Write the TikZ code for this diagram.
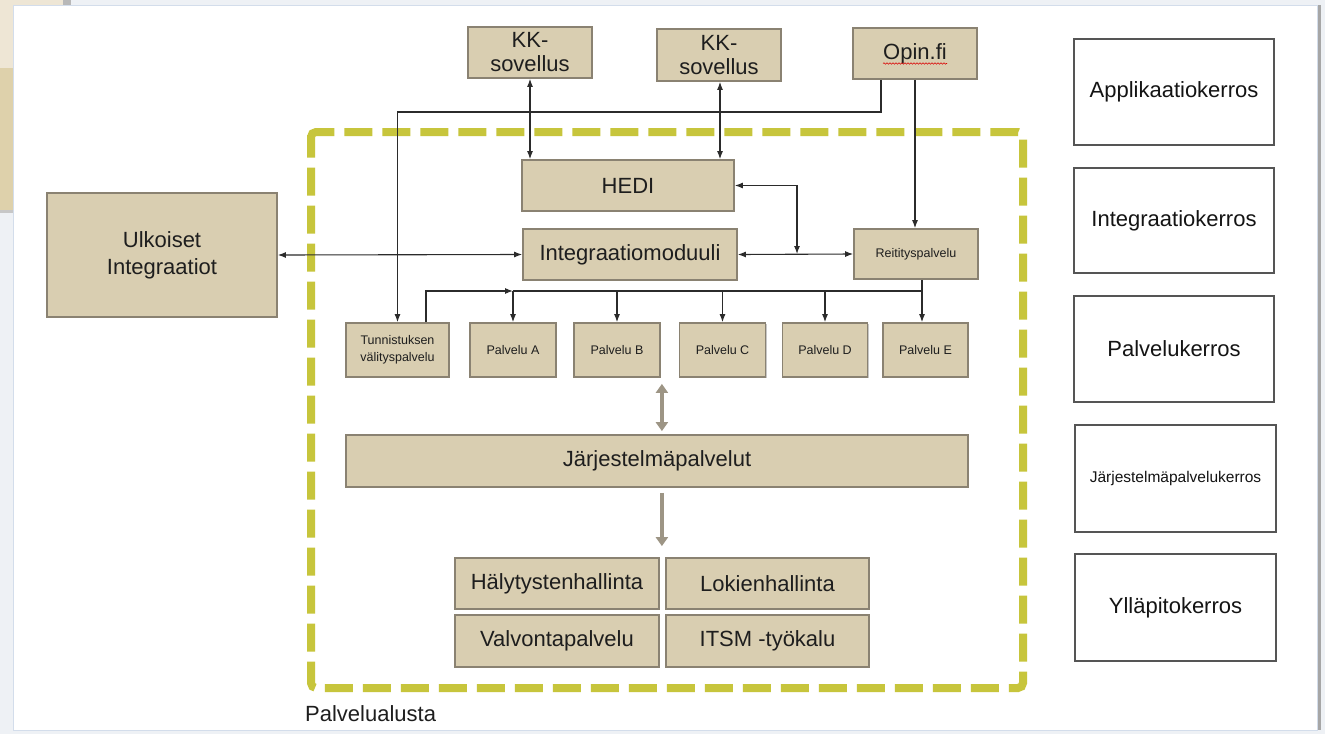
\documentclass[tikz,border=0pt]{standalone}
\usepackage{fontspec}
\setmainfont{Liberation Sans}
\usetikzlibrary{arrows.meta,calc,decorations.pathmorphing,shadows}
\definecolor{boxfill}{HTML}{D9CEB1}
\definecolor{boxline}{HTML}{8A8272}
\definecolor{txt}{HTML}{1E1E1E}
\definecolor{dashgreen}{HTML}{C7C53C}
\definecolor{bigarr}{HTML}{9D9585}
\definecolor{connc}{HTML}{2B2B2B}
\definecolor{layerline}{HTML}{555555}
\definecolor{outbg}{HTML}{EEF1F5}
\definecolor{beigeA}{HTML}{EEE6D5}
\definecolor{beigeB}{HTML}{DED1AB}
\definecolor{panelline}{HTML}{D3DDEB}
\begin{document}
\begin{tikzpicture}[x=1pt,y=-1pt,
  box/.style={draw=boxline, fill=boxfill, line width=1.8pt, inner sep=0pt, align=center, text=txt,
    font=\fontsize{22}{24}\selectfont,
    drop shadow={shadow xshift=1.2pt, shadow yshift=-1.2pt, opacity=0.22, fill=black}},
  smallbox/.style={box, font=\fontsize{12.5}{16.5}\selectfont},
  layer/.style={draw=layerline, fill=white, line width=1.4pt, inner sep=0pt, align=center, text=black!92, font=\fontsize{22}{25}\selectfont},
  conn/.style={draw=connc, line width=1.1pt, >={Latex[length=8pt,width=6pt]}},
  big/.style={draw=bigarr, line width=4pt, >={Triangle[length=9pt,width=12pt]}},
]
% frame / background
\fill[outbg] (0,0) rectangle (1325,734);
\useasboundingbox (0,0) rectangle (1325,734);
\fill[beigeA] (0,0) rectangle (65,68);
\fill[beigeB] (0,68) rectangle (13,210);
\fill[black!22] (0,210) rectangle (13,213);
\fill[black!28] (63,0) rectangle (71,5);
\fill[black!35] (1317,5) rectangle (1321,730);
\filldraw[fill=white, draw=panelline, line width=1pt] (13,5) rectangle (1317,730);

% dashed platform frame
\draw[dashgreen, line width=8pt, dash pattern=on 28pt off 10pt, rounded corners=5pt]
  (311,140) -- (311,132) -- (1023,132) -- (1023,688) -- (311,688) -- cycle;

% application layer
\node[box, minimum width=124pt, minimum height=51pt] (kk1) at (530,52.5) {KK-\\sovellus};
\node[box, minimum width=124pt, minimum height=52pt] (kk2) at (719,55) {KK-\\sovellus};
\node[box, minimum width=124pt, minimum height=51pt] (opin) at (915,53.5) {Opin.fi};

% integration layer
\node[box, minimum width=212pt, minimum height=51pt] (hedi) at (628,185.5) {HEDI};
\node[box, minimum width=214pt, minimum height=51pt] (integ) at (630,254.5) {Integraatiomoduuli};
\node[smallbox, minimum width=124pt, minimum height=50pt] (reit) at (916,254) {Reitityspalvelu};
\node[box, font=\fontsize{22}{27}\selectfont, minimum width=230pt, minimum height=124pt] (ulk) at (162,255) {Ulkoiset\\Integraatiot};

% service layer
\node[smallbox, minimum width=103pt, minimum height=54pt] (tunn) at (397.5,350) {Tunnistuksen\\välityspalvelu};
\node[smallbox, minimum width=86pt, minimum height=54pt] (pA) at (513,350) {Palvelu A};
\node[smallbox, minimum width=86pt, minimum height=54pt] (pB) at (617,350) {Palvelu B};
\node[smallbox, minimum width=86pt, minimum height=54pt] (pC) at (722.5,350) {Palvelu C};
\node[smallbox, minimum width=85pt, minimum height=54pt] (pD) at (825,350) {Palvelu D};
\node[smallbox, minimum width=85pt, minimum height=54pt] (pE) at (925.5,350) {Palvelu E};

% system services
\node[box, minimum width=622pt, minimum height=52pt] (jarj) at (657,461) {Järjestelmäpalvelut};

% maintenance
\node[box, minimum width=204pt, minimum height=51pt] (haly) at (557,583.5) {Hälytystenhallinta};
\node[box, minimum width=203pt, minimum height=51pt] (loki) at (767.5,583.5) {Lokienhallinta};
\node[box, minimum width=204pt, minimum height=52pt] (valv) at (557,641) {Valvontapalvelu};
\node[box, minimum width=203pt, minimum height=52pt] (itsm) at (767.5,641) {ITSM -työkalu};

\node[anchor=base west, inner sep=0pt, text=txt, font=\fontsize{22}{25}\selectfont] (pal) at (305,721) {Palvelualusta};

% layer legend
\node[layer, minimum width=200pt, minimum height=106pt] (lapp) at (1174,92) {Applikaatiokerros};
\node[layer, minimum width=200pt, minimum height=105pt] (lint) at (1174,220.5) {Integraatiokerros};
\node[layer, minimum width=200pt, minimum height=106pt] (lpal) at (1174,349) {Palvelukerros};
\node[layer, minimum width=201pt, minimum height=107pt, font=\fontsize{15.5}{18}\selectfont] (ljar) at (1175.5,478.5) {Järjestelmäpalvelukerros};
\node[layer, minimum width=201pt, minimum height=107pt] (lyll) at (1175.5,607.5) {Ylläpitokerros};

% spell-check squiggle
\draw[red!85!black, line width=0.6pt, decorate, decoration={snake, amplitude=0.7pt, segment length=3pt}]
  ($(opin.center)+(-32,10)$) -- ($(opin.center)+(32,10)$);

% connectors
\draw[conn,<->] (kk1.south) -- (kk1.south |- hedi.north);
\draw[conn,<->] ([xshift=1pt]kk2.south) -- ([xshift=1pt]kk2.south |- hedi.north);
\draw[conn,->] (opin.south) -- (opin.south |- reit.north);
\coordinate (ob) at (881,112);
\draw[conn,->] (opin.south -| ob) -- (ob) -| (tunn.north);
\coordinate (hj) at (797,254);
\draw[conn,<->] (hedi.east) -| (hj);
\draw[conn,<->] (integ.east) -- (reit.west);
\draw[conn,<->] (ulk.east) -- (integ.west);
\coordinate (bl) at (513,291);
\coordinate (br) at (922,291);
\draw[conn] (reit.south -| br) -- (br) -- (bl);
\draw[conn,->] (br) -- (br |- pE.north);
\foreach \p in {pA,pB,pC,pD} \draw[conn,->] (\p.north |- bl) -- (\p.north);
\draw[conn,->] ([xshift=28.5pt]tunn.north) |- (bl);

% big arrows
\draw[big,<->] ($(pB.south east)+(1,6)$) -- ($(pB.south east |- jarj.north)+(1,-3)$);
\draw[big,->] ($(jarj.south -| haly.east)+(2,5)$) -- ($(haly.north east)+(2,-11)$);
\end{tikzpicture}
\end{document}
